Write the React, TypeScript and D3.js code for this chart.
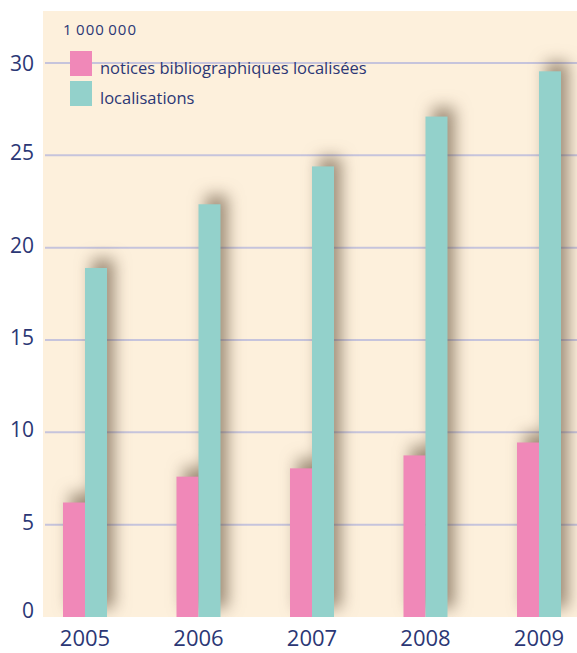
import React from "react";
import * as d3 from "d3";

const years = ["2005", "2006", "2007", "2008", "2009"];
const notices = [6.2, 7.6, 8.05, 8.75, 9.45];
const localisations = [18.9, 22.35, 24.4, 27.1, 29.55];
const yTicks = [0, 5, 10, 15, 20, 25, 30];
const seriesNames = ["notices bibliographiques localisées", "localisations"];
const unitLabel = "1\u2009000\u2009000";

const W = 577;
const H = 653;
const PINK = "#f088b8";
const TEAL = "#93d1cb";
const BG = "#fdf0dc";
const NAVY = "#2b3775";
const GRID = "#c6c4dc";
const FONT = "'Open Sans', 'DejaVu Sans', sans-serif";

export default function App() {
  const y = d3.scaleLinear().domain([0, 30]).range([617, 63]);
  const x = d3.scaleBand().domain(years).range([28.25, 595.75]).paddingInner(0);
  const barW = 22;
  const panelLeft = 43;
  const panelTop = 11;

  return (
    <svg width={W} height={H} style={{ position: "absolute", left: 0, top: 0 }}>
      <defs>
        <filter id="sh" x="-150%" y="-20%" width="400%" height="140%" colorInterpolationFilters="sRGB">
          <feGaussianBlur in="SourceAlpha" stdDeviation="8" />
          <feOffset dx="7" dy="-9" result="b" />
          <feFlood floodColor="#5a4630" floodOpacity="0.6" />
          <feComposite in2="b" operator="in" />
        </filter>
        <clipPath id="panel">
          <rect x={panelLeft} y={panelTop} width={W - panelLeft} height={617 - panelTop} />
        </clipPath>
      </defs>
      <rect width={W} height={H} fill="#fff" />
      <rect x={panelLeft} y={panelTop} width={W - panelLeft} height={617 - panelTop} fill={BG} />
      {yTicks.filter((t) => t > 0).map((t) => (
        <line key={t} x1={45} x2={W} y1={y(t)} y2={y(t)} stroke={GRID} strokeWidth={2} />
      ))}
      <g clipPath="url(#panel)">
        {years.map((yr, i) => {
          const cx = (x(yr) as number) + x.bandwidth() / 2;
          return (
            <g key={"s" + yr} filter="url(#sh)">
              <rect x={cx - barW} y={y(notices[i])} width={barW} height={y(0) - y(notices[i])} />
              <rect x={cx} y={y(localisations[i])} width={barW} height={y(0) - y(localisations[i])} />
            </g>
          );
        })}
      </g>
      {years.map((yr, i) => {
        const cx = (x(yr) as number) + x.bandwidth() / 2;
        return (
          <g key={yr}>
            <rect x={cx - barW} y={y(notices[i])} width={barW} height={y(0) - y(notices[i])} fill={PINK} />
            <rect x={cx} y={y(localisations[i])} width={barW} height={y(0) - y(localisations[i])} fill={TEAL} />
            <text x={cx} y={646} textAnchor="middle" fontFamily={FONT} fontSize={22} fill={NAVY}>
              {yr}
            </text>
          </g>
        );
      })}
      {yTicks.map((t) => (
        <text
          key={t}
          x={34}
          y={y(t) - (t === 0 ? 7 : t === 30 ? 0 : 3)}
          textAnchor="end"
          dominantBaseline="central"
          fontFamily={FONT}
          fontSize={21}
          fill={NAVY}
        >
          {t}
        </text>
      ))}
      <text x={63} y={35} fontFamily={FONT} fontSize={15} letterSpacing={1} fill={NAVY}>
        {unitLabel}
      </text>
      {seriesNames.map((n, i) => (
        <g key={n}>
          <rect x={70} y={51 + i * 30} width={22} height={25} fill={i === 0 ? PINK : TEAL} />
          <text x={100} y={74 + i * 30} fontFamily={FONT} fontSize={16.5} fill={NAVY}>
            {n}
          </text>
        </g>
      ))}
    </svg>
  );
}
